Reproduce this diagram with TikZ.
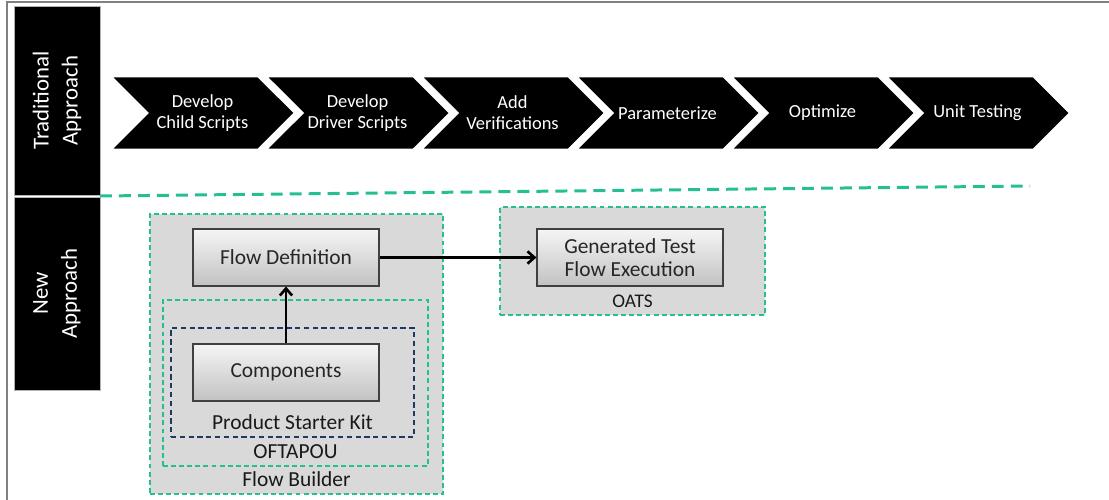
\documentclass[tikz,border=0pt]{standalone}
\usepackage{fontspec}
\setmainfont{Carlito}
\usepackage{xcolor}
\usepackage{tikz}
\usetikzlibrary{shapes.symbols, arrows.meta, positioning, shadows}
\definecolor{dashgreen}{HTML}{26BF94}
\definecolor{navydash}{HTML}{1F3864}
\definecolor{boxgray}{HTML}{D9D9D9}
\tikzset{
    sidebar/.style={
        rectangle,
        fill=black,
        draw=gray!60,
        line width=0.4pt,
        text=white,
        align=center,
        font=\fontsize{13}{16.5}\selectfont
    },
    stage/.style={
        signal,
        signal from=west,
        signal to=east,
        fill=black,
        draw=white,
        line width=2pt,
        minimum width=3.74cm,
        minimum height=1.5cm,
        text=white,
        align=center,
        inner sep=1pt,
        font=\fontsize{10.5}{12}\selectfont
    },
    container/.style={
        rectangle,
        draw=dashgreen,
        line width=0.8pt,
        dash pattern=on 2.8pt off 1.8pt
    },
    kitbox/.style={
        rectangle,
        draw=navydash,
        line width=0.8pt,
        dash pattern=on 3pt off 2pt
    },
    block/.style={
        rectangle,
        draw=black!75,
        line width=0.6pt,
        top color=black!4,
        bottom color=black!24,
        drop shadow={opacity=0.35, shadow xshift=0.8pt, shadow yshift=-0.8pt},
        minimum width=3.72cm,
        minimum height=1.14cm,
        align=center,
        text=black!85,
        font=\fontsize{12.2}{13.5}\selectfont
    },
    caption/.style={
        inner sep=1pt,
        text=black!90,
        font=\fontsize{12.2}{14}\selectfont
    },
    flow/.style={
        draw=black,
        line width=1.5pt,
        -{Straight Barb[length=4pt, width=7pt]}
    },
    separator/.style={
        draw=dashgreen,
        line width=1.7pt,
        dash pattern=on 6.8pt off 4pt
    }
}

\begin{document}
\begin{tikzpicture}[x=0.02cm, y=-0.02cm, node distance=0.2cm]
\useasboundingbox (0,0) rectangle (1109,500);

% page frame
\draw[gray, line width=0.6pt] (7,500) -- (7,2) -- (1109,2);

% side bars
\node[sidebar, rotate=90, minimum width=3.78cm, minimum height=1.72cm] (trad) at (57,100.5) {Traditional\\Approach};
\node[sidebar, rotate=90, minimum width=3.86cm, minimum height=1.72cm] (new) at (57,293.5) {New\\Approach};

% traditional stages
\node[stage] (s1) at (202.5,113) {Develop\\Child Scripts};
\node[stage] (s2) at (357.5,113) {Develop\\Driver Scripts};
\node[stage] (s3) at (512.5,113) {Add\\Verifications};
\node[stage] (s4) at (667.5,113) {Parameterize};
\node[stage] (s5) at (822.5,113) {Optimize};
\node[stage] (s6) at (977.5,113) {Unit Testing};

% separator
\coordinate (sepL) at (100,196);
\coordinate (sepR) at (1030,186);
\draw[separator] (sepL) -- (sepR);

% Flow Builder group
\node[container, fill=boxgray, minimum width=5.86cm, minimum height=5.6cm] (fb) at (296.5,354) {};
\node[container, minimum width=5.3cm, minimum height=3.32cm] (oftapou) at (295.5,383) {};
\node[kitbox, minimum width=4.86cm, minimum height=2.18cm] (psk) at (292.5,382.5) {};

\node[block] (flowdef) at (286,257.5) {Flow Definition};
\node[block] (comp) at (286,372.5) {Components};

\node[caption, above=3.5pt of psk.south] (psklabel) {Product Starter Kit};
\node[caption, above=3.5pt of oftapou.south] (oftlabel) {OFTAPOU};
\node[caption, above=3.5pt of fb.south] (fblabel) {Flow Builder};

% OATS group
\node[container, fill=boxgray, minimum width=5.3cm, minimum height=2.16cm] (oats) at (632.5,261) {};
\node[block] (gentest) at (630,257.5) {Generated Test\\Flow Execution};
\node[caption, font=\fontsize{11}{13}\selectfont, above=3.5pt of oats.south] (oatslabel) {OATS};

% connections
\draw[flow] (comp) -- (flowdef);
\draw[flow] (flowdef) -- (gentest);

\end{tikzpicture}
\end{document}
